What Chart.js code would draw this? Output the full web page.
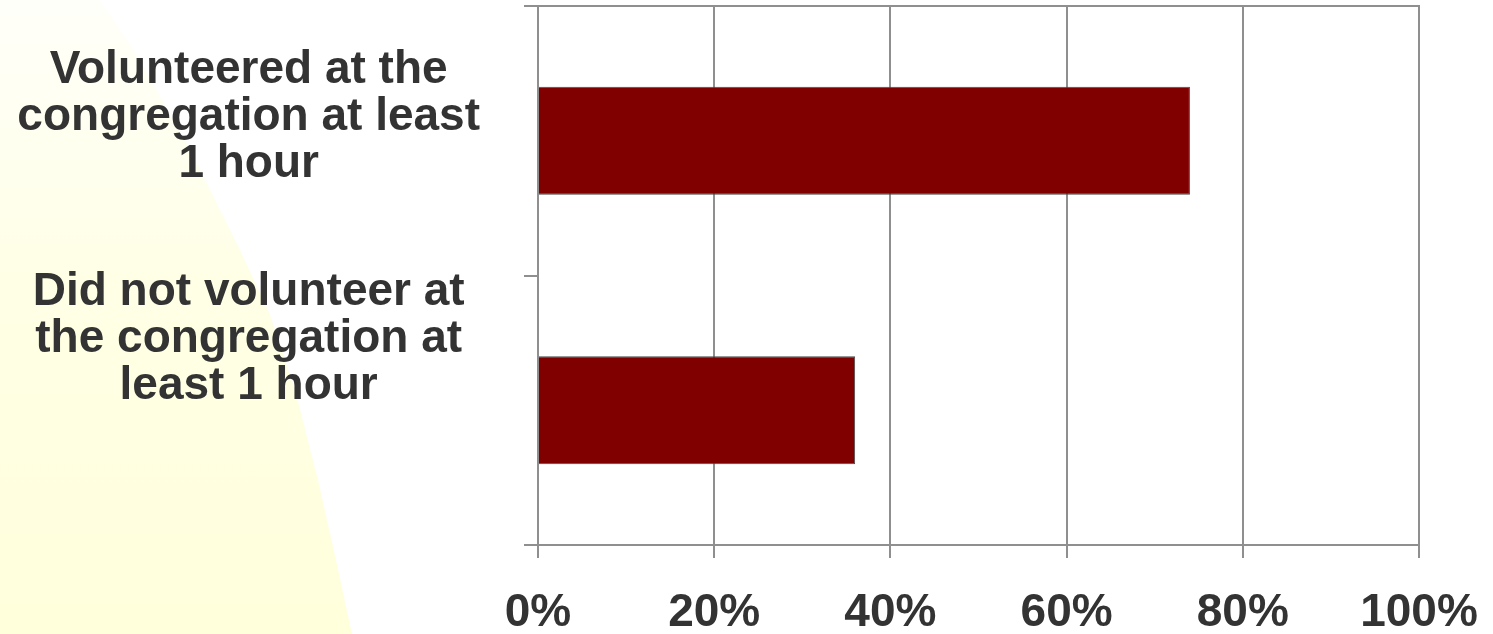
<!DOCTYPE html>
<html>
<head>
<meta charset="utf-8">
<title>Volunteering at the congregation</title>
<script src="https://cdn.jsdelivr.net/npm/chart.js@4.4.1/dist/chart.umd.min.js"></script>
<style>
  html, body { margin: 0; padding: 0; background: #fff; }
  #stage { position: relative; width: 1493px; height: 634px; overflow: hidden; }
  /* pale yellow wedge of the slide background */
  #wedge {
    position: absolute; left: 0; top: 0; width: 1493px; height: 634px;
    background: linear-gradient(to bottom, #fffffa 0%, #ffffe6 45%, #ffffdc 100%);
    clip-path: polygon(0 0, 100px 0, 140px 60px, 190px 150px, 240px 250px, 270px 315px,
                       295px 390px, 318px 480px, 336px 560px, 352px 634px, 0 634px);
  }
  #chartBox { position: absolute; left: 0; top: 0; width: 1493px; height: 634px; }
</style>
</head>
<body>
<div id="stage">
  <div id="wedge"></div>
  <div id="chartBox"><canvas id="chart"></canvas></div>
</div>
<script>
// Share who volunteered at least 1 hour at the congregation (horizontal bars).

const CATEGORIES = [
  ['Volunteered at the', 'congregation at least', '1 hour'],
  ['Did not volunteer at', 'the congregation at', 'least 1 hour']
];
const VALUES = [74, 36];
const X_TICKS = [0, 20, 40, 60, 80, 100];

const BAR_FILL = '#800000';
const BAR_EDGE = '#4a4a4a';
const GRID = '#8f8f8f';
const TEXT = '#333333';
const FONT = "'Liberation Sans', Arial, Helvetica, sans-serif";

// labels in the source sit above their bar; blank trailing lines lift them
const LABEL_LIFT = [1, 3];

const ctx = document.getElementById('chart');

new Chart(ctx, {
  type: 'bar',
  data: {
    labels: CATEGORIES,
    datasets: [{
      data: VALUES,
      backgroundColor: BAR_FILL,
      borderColor: BAR_EDGE,
      borderWidth: 1,
      categoryPercentage: 1,
      barPercentage: 0.4
    }]
  },
  options: {
    indexAxis: 'y',
    responsive: true,
    maintainAspectRatio: false,
    animation: false,
    layout: { padding: { left: 0, right: 74, top: 0, bottom: 0 } },
    plugins: {
      legend: { display: false },
      tooltip: { enabled: false }
    },
    scales: {
      x: {
        type: 'linear',
        position: 'bottom',
        min: 0,
        max: 100,
        afterBuildTicks: scale => { scale.ticks = X_TICKS.map(v => ({ value: v })); },
        afterFit: scale => {
          scale.height = 89;
          scale.paddingLeft = 0;
          scale.paddingRight = 0;
        },
        grid: { color: GRID, lineWidth: 2, tickLength: 13, tickColor: GRID },
        border: { color: GRID, width: 2 },
        ticks: {
          callback: v => v + '%',
          color: TEXT,
          padding: 28,
          maxRotation: 0,
          autoSkip: false,
          font: { family: FONT, size: 46, weight: 'bold', lineHeight: 1.2 }
        }
      },
      xTop: {
        type: 'linear',
        position: 'top',
        min: 0,
        max: 100,
        afterFit: scale => { scale.height = 6; },
        grid: { display: false },
        border: { color: GRID, width: 2 },
        ticks: { display: false }
      },
      y: {
        afterFit: scale => {
          scale.width = 538;
          scale.paddingTop = 0;
          scale.paddingBottom = 0;
        },
        grid: {
          offset: true,
          color: c => (c.index === 1 ? 'rgba(0,0,0,0)' : GRID),
          tickColor: GRID,
          lineWidth: 2,
          tickLength: 14
        },
        border: { color: GRID, width: 2 },
        ticks: {
          autoSkip: false,
          crossAlign: 'center',
          padding: 44,
          color: TEXT,
          callback: (v, i) => CATEGORIES[i].concat(Array(LABEL_LIFT[i]).fill('')),
          font: { family: FONT, size: 46, weight: 'bold', lineHeight: '47px' }
        }
      }
    }
  }
});
</script>
</body>
</html>
